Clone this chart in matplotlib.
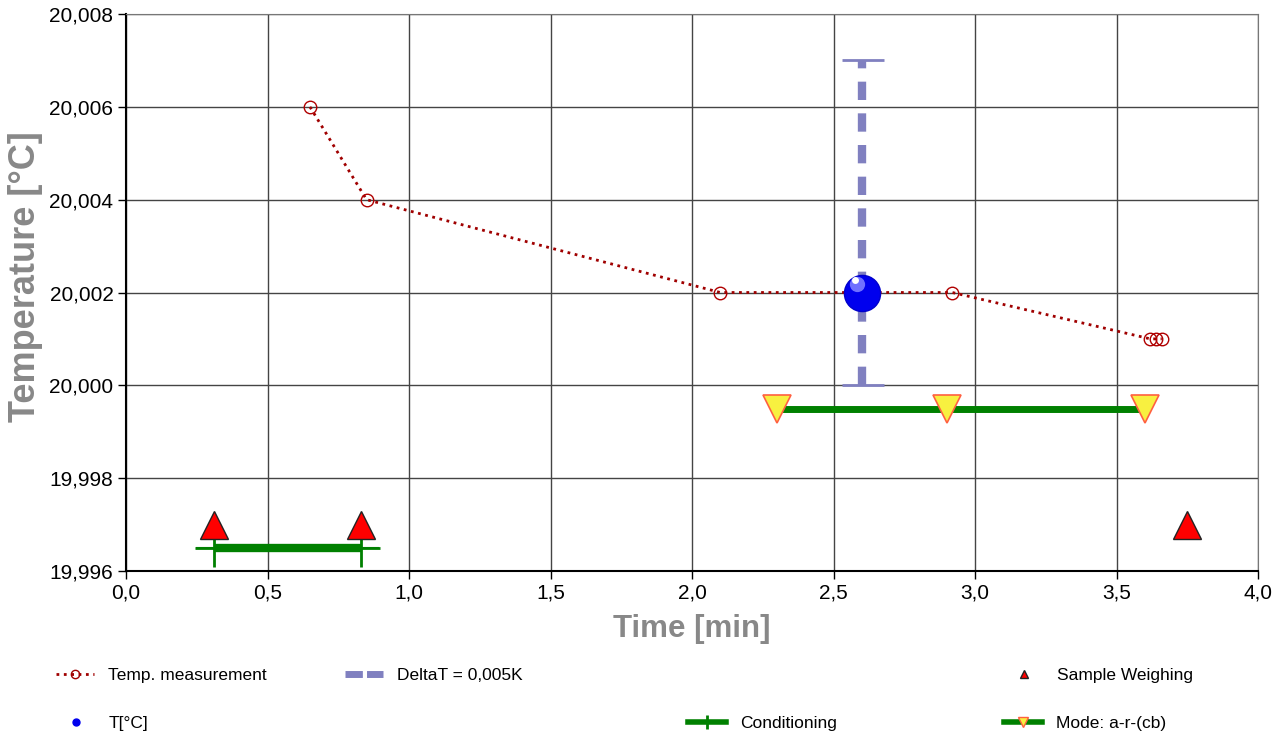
import matplotlib
matplotlib.use('Agg')
from matplotlib import pyplot as plt
from matplotlib.ticker import FuncFormatter, MultipleLocator
from matplotlib.lines import Line2D

# Temperature measurement series
temp_x = [0.65, 0.85, 2.10, 2.92, 3.62, 3.64, 3.66]
temp_y = [20.006, 20.004, 20.002, 20.002, 20.001, 20.001, 20.001]

# T[°C] result with DeltaT error bar
t_x = [2.60]
t_y = [20.002]
delta_lo = [20.000]
delta_hi = [20.007]

# Sample weighing
weigh_x = [0.31, 0.83, 3.75]
weigh_y = [19.997, 19.997, 19.997]

# Conditioning
cond_x = [0.31, 0.83]
cond_y = [19.9965, 19.9965]

# Mode: a-r-(cb)
mode_x = [2.30, 2.90, 3.60]
mode_y = [19.9995, 19.9995, 19.9995]

plt.rcParams['font.family'] = ['Liberation Sans', 'DejaVu Sans']

fig = plt.figure(figsize=(12.75, 7.37), dpi=100, facecolor='w')
ax = fig.add_axes([126 / 1275, 1 - 571 / 737, (1258 - 126) / 1275, (571 - 14) / 737])

ax.set_xlim(0, 4)
ax.set_ylim(19.996, 20.008)
ax.xaxis.set_major_locator(MultipleLocator(0.5))
ax.yaxis.set_major_locator(MultipleLocator(0.002))
ax.xaxis.set_major_formatter(FuncFormatter(lambda v, p: ('%.1f' % v).replace('.', ',')))
ax.yaxis.set_major_formatter(FuncFormatter(lambda v, p: ('%.3f' % v).replace('.', ',')))
ax.grid(True, color='#444444', lw=1)
ax.set_axisbelow(True)
for s in ['top', 'right']:
    ax.spines[s].set_color('#777777')
for s in ['left', 'bottom']:
    ax.spines[s].set_linewidth(1.5)
ax.tick_params(labelsize=15, length=6, width=1, pad=3)

# DeltaT error bar
ax.vlines(t_x, delta_lo, delta_hi, color='#8080c0', lw=6, linestyles=(0, (2.2, 1.6)), zorder=3)
ax.hlines(delta_hi + delta_lo, [t_x[0] - 0.07] * 2, [t_x[0] + 0.08] * 2, color='#8080c0', lw=2, zorder=3)

# temperature measurement
ax.plot(temp_x, temp_y, ls=':', color='#a00000', lw=2, marker='o', ms=9,
        mfc='none', mec='#b00000', mew=1, zorder=4)

# T ball
ax.plot(t_x, t_y, 'o', ms=26, color='#0000ee', mec='#0000cc', zorder=5)
ax.plot([t_x[0] - 0.018], [t_y[0] + 0.00018], 'o', ms=11, color='#7070ff', mec='none', zorder=6)
ax.plot([t_x[0] - 0.024], [t_y[0] + 0.00026], 'o', ms=5, color='white', mec='none', zorder=7)

# conditioning
ax.plot(cond_x, cond_y, color='#008000', lw=6, solid_capstyle='butt', zorder=3)
ax.plot(cond_x, cond_y, ls='none', marker='+', ms=28, mew=2, color='#008000', zorder=3)
ax.plot([cond_x[0] - 0.06, cond_x[1] + 0.06], cond_y, color='#008000', lw=1.5, zorder=2)

# sample weighing
ax.plot(weigh_x, weigh_y, ls='none', marker='^', ms=20, mfc='#ff0000', mec='#222222', mew=1, zorder=4)

# mode line
ax.plot(mode_x, mode_y, color='#008000', lw=5, zorder=3)
ax.plot(mode_x, mode_y, ls='none', marker='v', ms=20, mfc='#f8f040', mec='#ff6040', mew=1.2, zorder=4)

ax.set_xlabel('Time [min]', fontsize=22.5, fontweight='bold', color='#888888', labelpad=8)
ax.set_ylabel('Temperature [°C]', fontsize=26, fontweight='bold', color='#888888')
ax.yaxis.set_label_coords(-0.073, 0.528)

# legend entries
entries = [
    (Line2D([], [], ls=':', color='#a00000', lw=2, marker='o', ms=6, mfc='none', mec='#a00000'),
     'Temp. measurement', 56, 675),
    (Line2D([], [], ls=(0, (2.5, 0.6)), color='#8080c0', lw=5), 'DeltaT = 0,005K', 345, 675),
    (Line2D([], [], ls='none', marker='^', ms=6, mfc='red', mec='#222222'), 'Sample Weighing', 1005, 675),
    (Line2D([], [], ls='none', marker='o', ms=5, color='#0000ee'), 'T[°C]', 57, 723),
    (Line2D([], [], color='#008000', lw=4, marker='+', ms=10, mew=2), 'Conditioning', 688, 723),
    (Line2D([], [], color='#008000', lw=4, marker='v', ms=7, mfc='#f8f040', mec='#ff6040'), 'Mode: a-r-(cb)', 1004, 723),
]
for h, lab, px, py in entries:
    fig.legend([h], [lab], loc='center left', bbox_to_anchor=(px / 1275, 1 - py / 737),
               frameon=False, fontsize=12.5, handlelength=2.2, handletextpad=0.8,
               borderaxespad=0, borderpad=0)

fig.savefig('out.png', dpi=100, facecolor='w')
